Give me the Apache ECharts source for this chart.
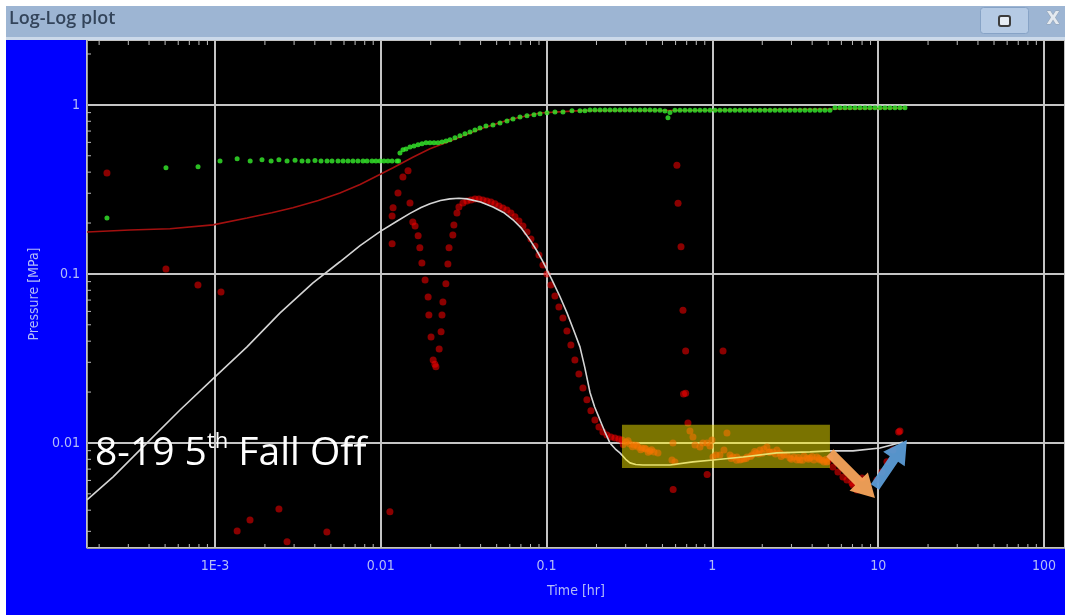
<!DOCTYPE html>
<html><head><meta charset="utf-8">
<script src="https://cdn.jsdelivr.net/npm/echarts@6/dist/echarts.min.js"></script>
<style>html,body{margin:0;padding:0;background:#fff;overflow:hidden}#c{width:1065px;height:615px}</style>
</head><body><div id="c"></div>
<script>
// ---------- data (time [hr], pressure [MPa]) ----------
const pressureChange = [
[2.23e-4,0.214],[5.06e-4,0.424],[7.9e-4,0.43],
[1.072e-3,0.466],[1.36e-3,0.48],[1.63e-3,0.466],[1.92e-3,0.473],[2.18e-3,0.466],[2.43e-3,0.473],[2.72e-3,0.466],[3.04e-3,0.47],[3.35e-3,0.466],[3.64e-3,0.466],[4.01e-3,0.468],[4.36e-3,0.466],[4.74e-3,0.466],[5.08e-3,0.466],[5.52e-3,0.466],[5.92e-3,0.466],[6.34e-3,0.466],[6.79e-3,0.466],[7.28e-3,0.466],[7.81e-3,0.466],[8.26e-3,0.466],[8.85e-3,0.466],[9.35e-3,0.466],[9.89e-3,0.466],[0.01045,0.466],[0.01104,0.466],[0.01169,0.466],[0.01253,0.466],[0.0128,0.466],
[0.01305,0.52],[0.01361,0.542],[0.01419,0.549],[0.015,0.564],[0.01585,0.572],[0.01677,0.58],[0.01772,0.588],[0.01874,0.596],[0.01981,0.596],[0.02094,0.596],[0.02213,0.596],[0.02339,0.604],[0.02473,0.612],[0.02615,0.621],[0.02803,0.638],[0.03004,0.656],[0.03219,0.674],[0.03451,0.692],[0.03699,0.711],[0.03966,0.731],[0.04311,0.751],[0.0475,0.761],[0.05235,0.782],[0.05771,0.804],[0.06271,0.826],[0.06913,0.849],[0.07617,0.861],[0.08395,0.873],[0.09125,0.885],[0.1006,0.897],[0.1124,0.909],[0.1256,0.909],[0.1423,0.922],
[0.159,0.922],[0.1704,0.922],[0.1827,0.934],[0.1958,0.934],[0.21,0.934],[0.2251,0.934],[0.2412,0.934],[0.2586,0.934],[0.2772,0.934],[0.2971,0.934],[0.3184,0.934],[0.3413,0.934],[0.3659,0.934],[0.3922,0.934],[0.4203,0.934],[0.4506,0.93],[0.4831,0.93],[0.5177,0.92],[0.5397,0.84],[0.5549,0.9],[0.5948,0.93],[0.6376,0.93],[0.6834,0.93],[0.7326,0.93],[0.7855,0.93],[0.8418,0.93],[0.9024,0.93],[0.9673,0.93],[1.037,0.93],[1.111,0.93],[1.191,0.93],[1.277,0.93],[1.369,0.93],[1.467,0.93],[1.573,0.93],[1.686,0.93],[1.807,0.93],[1.937,0.93],[2.076,0.93],[2.226,0.93],[2.386,0.93],[2.557,0.93],[2.741,0.93],[2.938,0.93],[3.15,0.93],[3.376,0.93],[3.619,0.93],[3.879,0.93],[4.158,0.93],[4.457,0.93],[4.777,0.93],[5.121,0.93],
[5.489,0.96],[5.884,0.96],[6.307,0.96],[6.76,0.96],[7.246,0.96],[7.767,0.96],[8.326,0.96],[8.925,0.96],[9.567,0.96],[10.25,0.96],[10.99,0.96],[11.78,0.96],[12.63,0.96],[13.54,0.96],[14.51,0.96]
];
const pressureDerivative = [
[2.23e-4,0.396],[5.06e-4,0.107],[7.89e-4,0.0861],[1.087e-3,0.0782],[1.36e-3,0.00301],[1.626e-3,0.0035],[2.43e-3,0.00406],[2.72e-3,0.0026],[4.73e-3,0.00297],[0.01135,0.00391],
[0.0136,0.375],[0.0146,0.407],[0.0127,0.301],[0.01186,0.246],[0.0117,0.22],[0.0117,0.151],
[0.015,0.263],[0.0156,0.203],[0.0161,0.192],[0.0168,0.168],[0.0172,0.1426],[0.0177,0.116],[0.0185,0.0921],[0.0193,0.0731],[0.0195,0.0572],[0.0201,0.0424],[0.0207,0.031],[0.0212,0.0292],[0.0215,0.0282],
[0.0225,0.036],[0.0231,0.0454],[0.0234,0.0572],[0.0237,0.0683],[0.0247,0.0873],[0.0254,0.1146],[0.0258,0.1426],[0.0272,0.17],[0.0276,0.195],[0.0288,0.2296],[0.0296,0.249],
[0.03131,0.263],[0.0331,0.2704],[0.03499,0.2741],[0.03699,0.2778],[0.0391,0.2778],[0.04133,0.2741],[0.04369,0.2704],[0.04619,0.2667],[0.04883,0.2596],[0.05161,0.2526],[0.05456,0.2458],[0.05768,0.2391],[0.06097,0.2296],[0.06445,0.2175],[0.06813,0.2059],[0.07202,0.1923],[0.07614,0.1772],[0.08048,0.1611],[0.08508,0.1464],[0.08994,0.1295],[0.09508,0.113],[0.1005,0.1],[0.1062,0.0861],[0.1123,0.0741],[0.1187,0.0638],[0.1255,0.0549],[0.1327,0.046],[0.1402,0.038],[0.1482,0.031],[0.1567,0.0256],[0.1657,0.0211],[0.1751,0.018],[0.1851,0.0155],[0.1957,0.01368],[0.2069,0.01244],[0.2187,0.01162],[0.2312,0.01115],[0.2444,0.01085],[0.2583,0.01071],[0.2731,0.01056],
[0.285,0.01042],[0.29,0.0098],[0.3012,0.01014],[0.31,0.0103],[0.3184,0.00986],[0.33,0.0095],[0.3366,0.00973],[0.35,0.0097],[0.3558,0.00947],[0.37,0.0091],[0.3761,0.00934],[0.39,0.0093],[0.3977,0.00922],[0.41,0.0088],[0.4203,0.00897],[0.43,0.0091],[0.4444,0.00885],[0.4697,0.00873],
[0.5705,0.00793],[0.5786,0.01],[0.5948,0.00772],[0.7125,0.01313],[0.7326,0.01178],[0.7639,0.01085],[0.7855,0.00973],[0.8418,0.00947],[0.8777,0.01],[0.9278,0.01],[0.9673,0.0096],[0.9945,0.01042],[1.0083,0.00826],[1.051,0.00849],[1.111,0.00849],[1.175,0.00909],[1.225,0.01146],[1.277,0.00849],[1.3,0.0081],[1.331,0.00826],[1.4,0.0079],[1.407,0.00826],[1.467,0.00793],[1.5,0.008],[1.551,0.00804],[1.6,0.0081],[1.617,0.00826],[1.7,0.0083],[1.733,0.00849],[1.8,0.0089],[1.832,0.00873],[1.9,0.0086],[1.937,0.00909],[2.0,0.0087],[2.047,0.00922],[2.135,0.00947],[2.2,0.0088],[2.226,0.00885],[2.32,0.00885],[2.4,0.0086],[2.453,0.00909],[2.557,0.00873],[2.6,0.0083],[2.703,0.00849],[2.818,0.00849],[2.938,0.00815],[3.0,0.008],[3.106,0.00826],[3.238,0.00793],[3.3,0.0082],[3.376,0.00793],[3.5,0.0079],[3.569,0.00838],[3.721,0.00815],[3.8,0.008],[3.879,0.00815],[4.0,0.0083],[4.101,0.00793],[4.275,0.00826],[4.4,0.0081],[4.457,0.00793],[4.6,0.0079],[4.711,0.00772],[4.85,0.008],[4.912,0.00772],[5.0,0.0078],[5.121,0.00815],
[5.339,0.00721],[5.722,0.00674],[6.134,0.00629],[6.484,0.00604],[6.95,0.0058],[7.047,0.00564],[7.449,0.00527],[7.986,0.00621],[9.835,0.00604],[10.54,0.00674],[11.3,0.00773],[12.28,0.00909],[13.3,0.0116],[13.54,0.01178],
[0.611,0.44],[0.621,0.262],[0.647,0.145],[0.665,0.061],[0.69,0.035],[0.67,0.0195],[0.69,0.0197],[1.16,0.035],[0.93,0.0065],[0.58,0.0053]
];
const modelPressure = [
[1.69e-4,0.177],[3.07e-4,0.182],[5.35e-4,0.185],[9.73e-4,0.195],[1.56e-3,0.214],[2.2e-3,0.23],[2.95e-3,0.246],[4.2e-3,0.272],[5.67e-3,0.301],[7.5e-3,0.338],[0.01,0.39],[0.01186,0.425],[0.0156,0.49],[0.0198,0.55],[0.0251,0.6],[0.0397,0.72],[0.06,0.82],[0.0912,0.895],[0.16,0.925],[1,0.93],[14.5,0.955]
];
const modelDerivative = [
[1.69e-4,0.0046],[2.43e-4,0.0063],[3.89e-4,0.01],[6.15e-4,0.01567],[1e-3,0.0246],[1.56e-3,0.037],[2.47e-3,0.0588],[3.9e-3,0.0885],[5.67e-3,0.118],[7.5e-3,0.147],[9.89e-3,0.178],[0.0125,0.205],[0.015,0.228],[0.0175,0.247],[0.0198,0.26],[0.0229,0.272],[0.0261,0.278],[0.0296,0.28],[0.0331,0.278],[0.04,0.266],[0.0475,0.249],[0.055,0.231],[0.0627,0.209],[0.07,0.188],[0.0794,0.159],[0.087,0.138],[0.0938,0.121],[0.1,0.107],[0.1078,0.0921],[0.12,0.074],[0.1328,0.0588],[0.145,0.047],[0.159,0.037],[0.17,0.028],[0.183,0.0198],[0.195,0.0163],[0.21,0.01368],[0.225,0.0116],[0.241,0.01],[0.26,0.0092],[0.277,0.00873],[0.3,0.0080],[0.3186,0.00762],[0.345,0.00745],[0.381,0.00741],[0.555,0.00741],[0.763,0.00773],[1.009,0.00793],[1.53,0.00826],[2.45,0.00873],[3.88,0.00885],[5.12,0.00897],[7.05,0.00897],[10.26,0.00934],[14.1,0.01014]
];
const highlightBox = [[0.285, 0.0128, 5.12, 0.00711]];
const arrows = [[5.12, 0.00873, 9.57, 0.00473], [9.57, 0.00549, 14.9, 0.01042]];
const arrowColors = ['#f6a35a', '#5b9bd5'];
const xTickLabels = {'-3':'1E-3','-2':'0.01','-1':'0.1','0':'1','1':'10','2':'100'};
const yTickLabels = {'-2':'0.01','-1':'0.1','0':'1'};
const minorMultipliers = [2,3,4,5,6,7,8,9];
const xDecades = [1e-4,1e-3,1e-2,1e-1,1,10,100];
const yDecades = [1e-3,1e-2,1e-1,1];
const X_MIN = 1.69e-4, X_MAX = 134, Y_MIN = 0.00239, Y_MAX = 2.42;

// ---------- helpers ----------
function decadeLabel(map, v){
  const l = Math.log10(v), r = Math.round(l);
  if (Math.abs(l - r) > 1e-6) return '';
  return map[String(r)] || '';
}
const minorX = [], minorY = [];
xDecades.forEach(d => minorMultipliers.forEach(m => { const v = d*m; if (v > X_MIN && v < X_MAX) minorX.push([v, 1]); }));
yDecades.forEach(d => minorMultipliers.forEach(m => { const v = d*m; if (v > Y_MIN && v < Y_MAX) minorY.push([1, v]); }));

const labelColor = '#b3bcf7';
const labelFont = 'DejaVu Sans Condensed';
const tickColor = '#bdbdbd';

const chart = echarts.init(document.getElementById('c'), null, {renderer:'canvas'});
chart.setOption({
  animation: false,
  backgroundColor: '#0000ff',
  grid: { left: 87, top: 40, right: 0, bottom: 67, show: true, backgroundColor: '#000', borderColor: '#9a9a9a', borderWidth: 1, containLabel: false, outerBoundsMode: 'none' },
  xAxis: {
    type: 'log', min: X_MIN, max: X_MAX, logBase: 10,
    name: 'Time [hr]', nameLocation: 'middle', nameGap: 36,
    nameTextStyle: { color: labelColor, fontSize: 14, fontFamily: labelFont },
    axisLine: { show: true, lineStyle: { color: '#9a9a9a' } },
    axisTick: { show: false }, minorTick: { show: false },
    axisLabel: { color: labelColor, fontSize: 14, fontFamily: labelFont, margin: 11, formatter: v => decadeLabel(xTickLabels, v) },
    splitLine: { show: true, lineStyle: { color: '#c4c4c4', width: 2 } }
  },
  yAxis: {
    type: 'log', min: Y_MIN, max: Y_MAX, logBase: 10,
    name: 'Pressure [MPa]', nameLocation: 'middle', nameGap: 38, nameRotate: 90,
    nameTextStyle: { color: labelColor, fontSize: 14, fontFamily: labelFont },
    axisLine: { show: true, lineStyle: { color: '#9a9a9a' } },
    axisTick: { show: false }, minorTick: { show: false },
    axisLabel: { color: labelColor, fontSize: 14, fontFamily: labelFont, margin: 7, formatter: v => decadeLabel(yTickLabels, v) },
    splitLine: { show: true, lineStyle: { color: '#c4c4c4', width: 2 } }
  },
  series: [
    { type: 'line', data: modelPressure, showSymbol: false, smooth: false, z: 2,
      lineStyle: { color: '#a3100f', width: 1.6 } },
    { type: 'scatter', data: pressureChange, symbol: 'circle', symbolSize: 5, z: 3,
      itemStyle: { color: '#36ee2c' } },
    { type: 'scatter', data: pressureDerivative, symbol: 'circle', symbolSize: 7, z: 3,
      itemStyle: { color: 'rgba(235,0,0,0.74)' } },
    { type: 'line', data: modelDerivative, showSymbol: false, smooth: false, z: 4,
      lineStyle: { color: '#d4d4d4', width: 1.6 } },
    { type: 'custom', data: highlightBox, z: 5, silent: true,
      renderItem: (params, api) => {
        const a = api.coord([api.value(0), api.value(1)]);
        const b = api.coord([api.value(2), api.value(3)]);
        return { type: 'rect', shape: { x: a[0], y: a[1], width: b[0]-a[0], height: b[1]-a[1] },
          style: { fill: 'rgba(255,240,0,0.48)' } };
      } },
    { type: 'custom', data: arrows, z: 6, silent: true,
      renderItem: (params, api) => {
        const a = api.coord([api.value(0), api.value(1)]);
        const b = api.coord([api.value(2), api.value(3)]);
        const dx = b[0]-a[0], dy = b[1]-a[1], L = Math.hypot(dx, dy);
        const ux = dx/L, uy = dy/L, nx = -uy, ny = ux;
        const sw = 5, hw = 13, hl = 23;
        const bx = b[0]-ux*hl, by = b[1]-uy*hl;
        const pts = [[a[0]+nx*sw,a[1]+ny*sw],[bx+nx*sw,by+ny*sw],[bx+nx*hw,by+ny*hw],[b[0],b[1]],[bx-nx*hw,by-ny*hw],[bx-nx*sw,by-ny*sw],[a[0]-nx*sw,a[1]-ny*sw]];
        return { type: 'polygon', shape: { points: pts }, style: { fill: arrowColors[params.dataIndex], opacity: 0.95 } };
      } },
    { type: 'custom', data: minorX, z: 7, silent: true, clip: false,
      renderItem: (params, api) => {
        const x = api.coord([api.value(0), 1])[0];
        const cs = params.coordSys;
        return { type: 'group', children: [
          { type: 'line', shape: { x1: x, y1: cs.y, x2: x, y2: cs.y + 5 }, style: { stroke: tickColor, lineWidth: 1 } },
          { type: 'line', shape: { x1: x, y1: cs.y + cs.height, x2: x, y2: cs.y + cs.height - 4 }, style: { stroke: tickColor, lineWidth: 1 } }
        ] };
      } },
    { type: 'custom', data: minorY, z: 7, silent: true, clip: false,
      renderItem: (params, api) => {
        const y = api.coord([1, api.value(1)])[1];
        const cs = params.coordSys;
        return { type: 'line', shape: { x1: cs.x, y1: y, x2: cs.x + 4, y2: y }, style: { stroke: tickColor, lineWidth: 1 } };
      } }
  ],
  graphic: [
    { type: 'rect', left: 0, top: 0, shape: { width: 1065, height: 6 }, style: { fill: '#ffffff' }, z: 50 },
    { type: 'rect', left: 0, top: 0, shape: { width: 6, height: 615 }, style: { fill: '#ffffff' }, z: 50 },
    { type: 'rect', left: 6, top: 6, shape: { width: 1059, height: 32 }, style: { fill: '#9db5d3' }, z: 50 },
    { type: 'rect', left: 6, top: 37, shape: { width: 1059, height: 3 }, style: { fill: '#cbd9ea' }, z: 50 },
    { type: 'text', left: 9, top: 10, z: 51, style: { text: 'Log-Log plot', fontSize: 18, fontWeight: 600, fontFamily: 'Open Sans', fill: '#33445a' } },
    { type: 'rect', left: 980, top: 7, shape: { width: 48, height: 26, r: 3 }, style: { fill: '#b5cae4', stroke: '#87a3c6', lineWidth: 1 }, z: 51 },
    { type: 'rect', left: 998, top: 15, shape: { width: 11, height: 10, r: 2 }, style: { fill: '#e8eef5', stroke: '#3d3d3d', lineWidth: 2 }, z: 52 },
    { type: 'text', left: 1046, top: 11, z: 51, style: { text: 'X', fontSize: 17, fontFamily: 'DejaVu Sans', fontWeight: 'bold', fill: '#e4e9ef', stroke: '#93a3b6', lineWidth: 1 } },
    { type: 'text', left: 95, top: 431, z: 60, style: {
        text: '{a|8-19 5}{b|th}{a| Fall Off}',
        rich: {
          a: { fontSize: 39, fontFamily: 'Open Sans', fill: '#ffffff', lineHeight: 46 },
          b: { fontSize: 22, fontFamily: 'Open Sans', fill: '#ffffff', verticalAlign: 'top', lineHeight: 46 }
        } } }
  ]
});
</script></body></html>
